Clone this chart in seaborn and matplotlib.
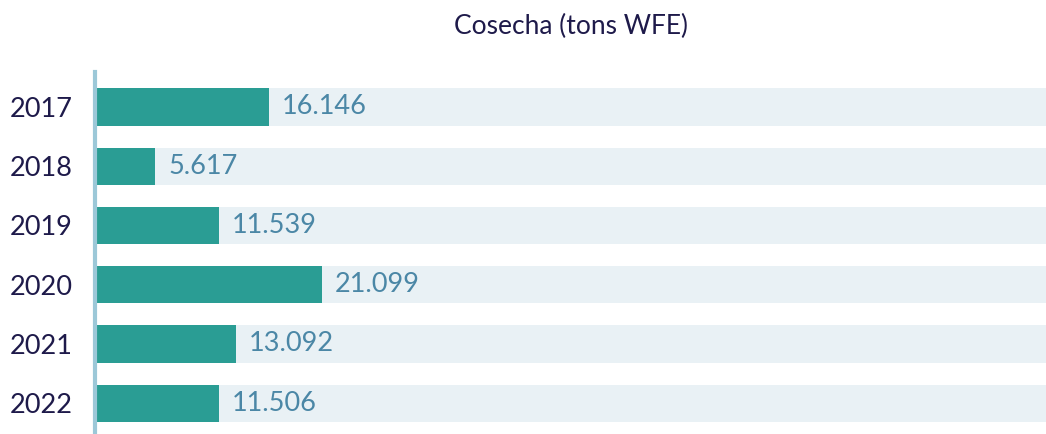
import matplotlib
matplotlib.use("Agg")
import matplotlib.pyplot as plt
import seaborn as sns
import pandas as pd

years = ["2017", "2018", "2019", "2020", "2021", "2022"]
cosecha = [16146, 5617, 11539, 21099, 13092, 11506]
etiquetas = ["16.146", "5.617", "11.539", "21.099", "13.092", "11.506"]

X_MAX = 88500

sns.set_style("white")
plt.rcParams["font.family"] = ["Lato", "DejaVu Sans"]

df = pd.DataFrame({"year": years, "valor": cosecha, "fondo": [X_MAX] * len(years)})

fig = plt.figure(figsize=(10.46, 4.34), dpi=100)
ax = fig.add_axes([95 / 1046, 0, 951 / 1046, 362 / 434])

# barra de fondo + barra de valor
sns.barplot(data=df, y="year", x="fondo", color="#e9f1f5", width=0.63,
            saturation=1, linewidth=0, ax=ax, orient="h")
sns.barplot(data=df, y="year", x="valor", color="#2a9d94", width=0.63,
            saturation=1, linewidth=0, ax=ax, orient="h")

for i, (v, t) in enumerate(zip(cosecha, etiquetas)):
    ax.text(v + 1200, i, t, va="center", ha="left", fontsize=19.5, color="#4b87a6")

ax.set_xlim(0, X_MAX)
ax.set_ylim(5.52, -0.59)
ax.set_xlabel("")
ax.set_ylabel("")
ax.set_xticks([])
for s in ["top", "right", "bottom"]:
    ax.spines[s].set_visible(False)
ax.spines["left"].set_color("#9cc8d8")
ax.spines["left"].set_linewidth(3)
ax.tick_params(axis="y", length=0, pad=16, labelsize=19.5, labelcolor="#1e1a4a")

fig.text(0.546, 0.94, "Cosecha (tons WFE)", ha="center", va="center",
         fontsize=19, color="#1e1a4a")

fig.savefig("out.png", dpi=100)
